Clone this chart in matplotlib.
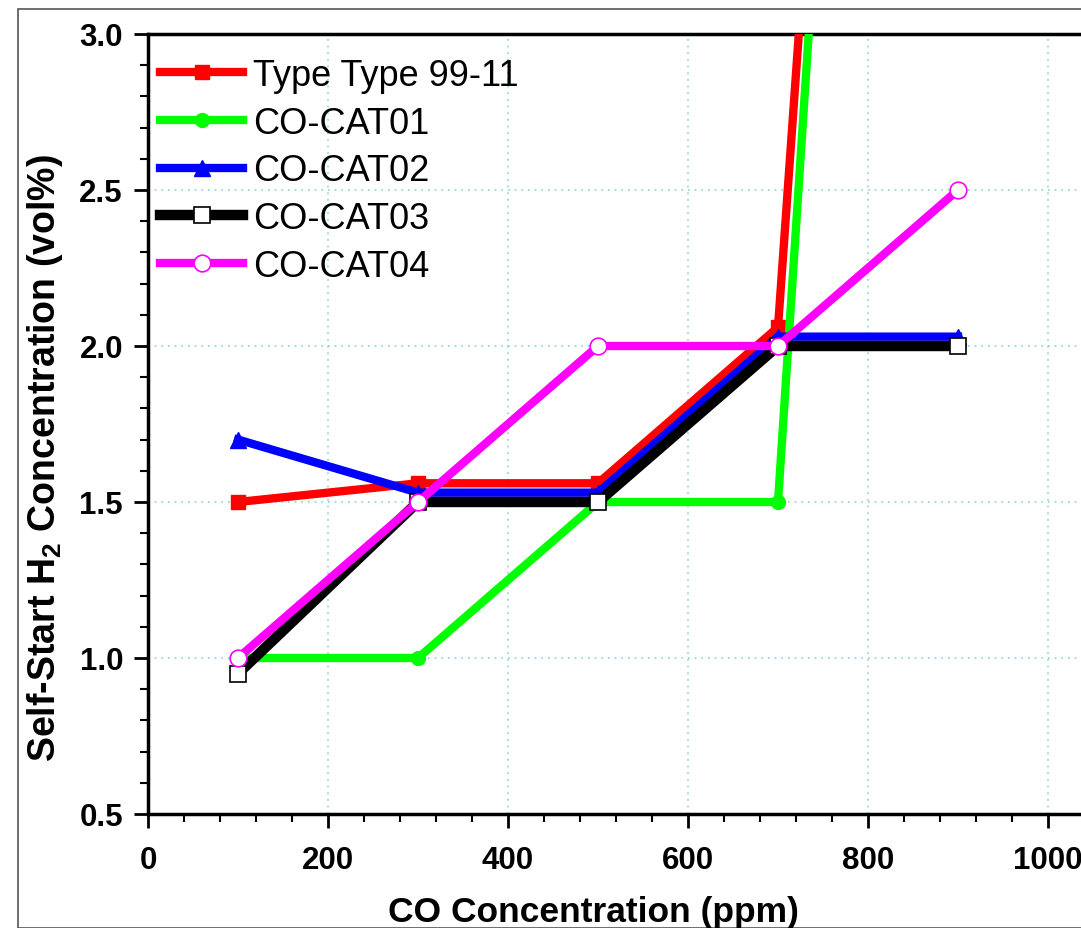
import matplotlib.pyplot as plt
from matplotlib.patches import Rectangle
from matplotlib.ticker import MultipleLocator

plt.rcParams['font.family'] = ['Liberation Sans', 'DejaVu Sans']

# data
co_ppm = [100, 300, 500, 700, 900]
type_99_11 = [1.50, 1.56, 1.56, 2.06, 10.2]
co_cat01 = [1.00, 1.00, 1.50, 1.50, 10.3]
co_cat02 = [1.70, 1.53, 1.53, 2.03, 2.03]
co_cat03 = [0.95, 1.50, 1.50, 2.00, 2.00]
co_cat04 = [1.00, 1.50, 2.00, 2.00, 2.50]

W, H = 1081, 929
fig = plt.figure(figsize=(W / 100, H / 100), dpi=100)

# outer grey frame of the original graph page
fig.patches.append(Rectangle((18 / W, 0), 1.2, 1 - 10 / H, transform=fig.transFigure,
                             fill=False, edgecolor='#555555', linewidth=1.2))

# axes run past the right edge of the picture (image is cropped)
ax = fig.add_axes([148 / W, 1 - 815 / H, 990 / W, 780 / H])
ax.set_xlim(0, 1100)
ax.set_ylim(0.5, 3.0)

lw = 6
ax.plot(co_ppm, type_99_11, color='#ff0000', lw=lw, marker='s', ms=10,
        mfc='#ff0000', mec='#ff0000', label='Type Type 99-11', zorder=3)
ax.plot(co_ppm, co_cat01, color='#00ff00', lw=lw, marker='o', ms=10,
        mfc='#00ff00', mec='#00ff00', label='CO-CAT01', zorder=3)
ax.plot(co_ppm, co_cat02, color='#0000ff', lw=lw, marker='^', ms=12,
        mfc='#0000ff', mec='#0000ff', label='CO-CAT02', zorder=3)
ax.plot(co_ppm, co_cat03, color='#000000', lw=lw + 1.5, marker='s', ms=11,
        mfc='white', mec='black', mew=1.2, label='CO-CAT03', zorder=3)
ax.plot(co_ppm, co_cat04, color='#ff00ff', lw=lw, marker='o', ms=12,
        mfc='white', mec='#ff00ff', mew=1.2, label='CO-CAT04', zorder=4)

# ticks and grid
ax.xaxis.set_major_locator(MultipleLocator(200))
ax.xaxis.set_minor_locator(MultipleLocator(40))
ax.yaxis.set_major_locator(MultipleLocator(0.5))
ax.yaxis.set_minor_locator(MultipleLocator(0.1))
ax.tick_params(which='major', direction='out', length=10, width=2, labelsize=22.5)
ax.tick_params(axis='x', which='major', pad=12)
ax.tick_params(axis='y', which='major', pad=8)
ax.tick_params(which='minor', direction='out', length=6, width=1.5)
for lab in ax.get_xticklabels() + ax.get_yticklabels():
    lab.set_fontweight('bold')
ax.yaxis.set_major_formatter(plt.FormatStrFormatter('%.1f'))
ax.grid(True, which='major', linestyle=(0, (1, 3)), color='#6cc8d0', linewidth=1.2, alpha=0.8)
for s in ax.spines.values():
    s.set_linewidth(2.5)

leg = ax.legend(loc='upper left', frameon=False, fontsize=26, handlelength=2.3,
                handletextpad=0.28, labelspacing=0.35, borderpad=0, borderaxespad=0,
                bbox_to_anchor=(12 / 990, (815 - 59) / 780))

fig.text(593 / W, 1 - 922 / H, 'CO Concentration (ppm)', fontsize=25.5, fontweight='bold',
         ha='center', va='baseline')
fig.text(45 / W, 1 - 458 / H, 'Self-Start H$_\\mathregular{2}$ Concentration (vol%)',
         fontsize=27, fontweight='bold', rotation=90, ha='center', va='center')

fig.savefig('out.png', dpi=100)
